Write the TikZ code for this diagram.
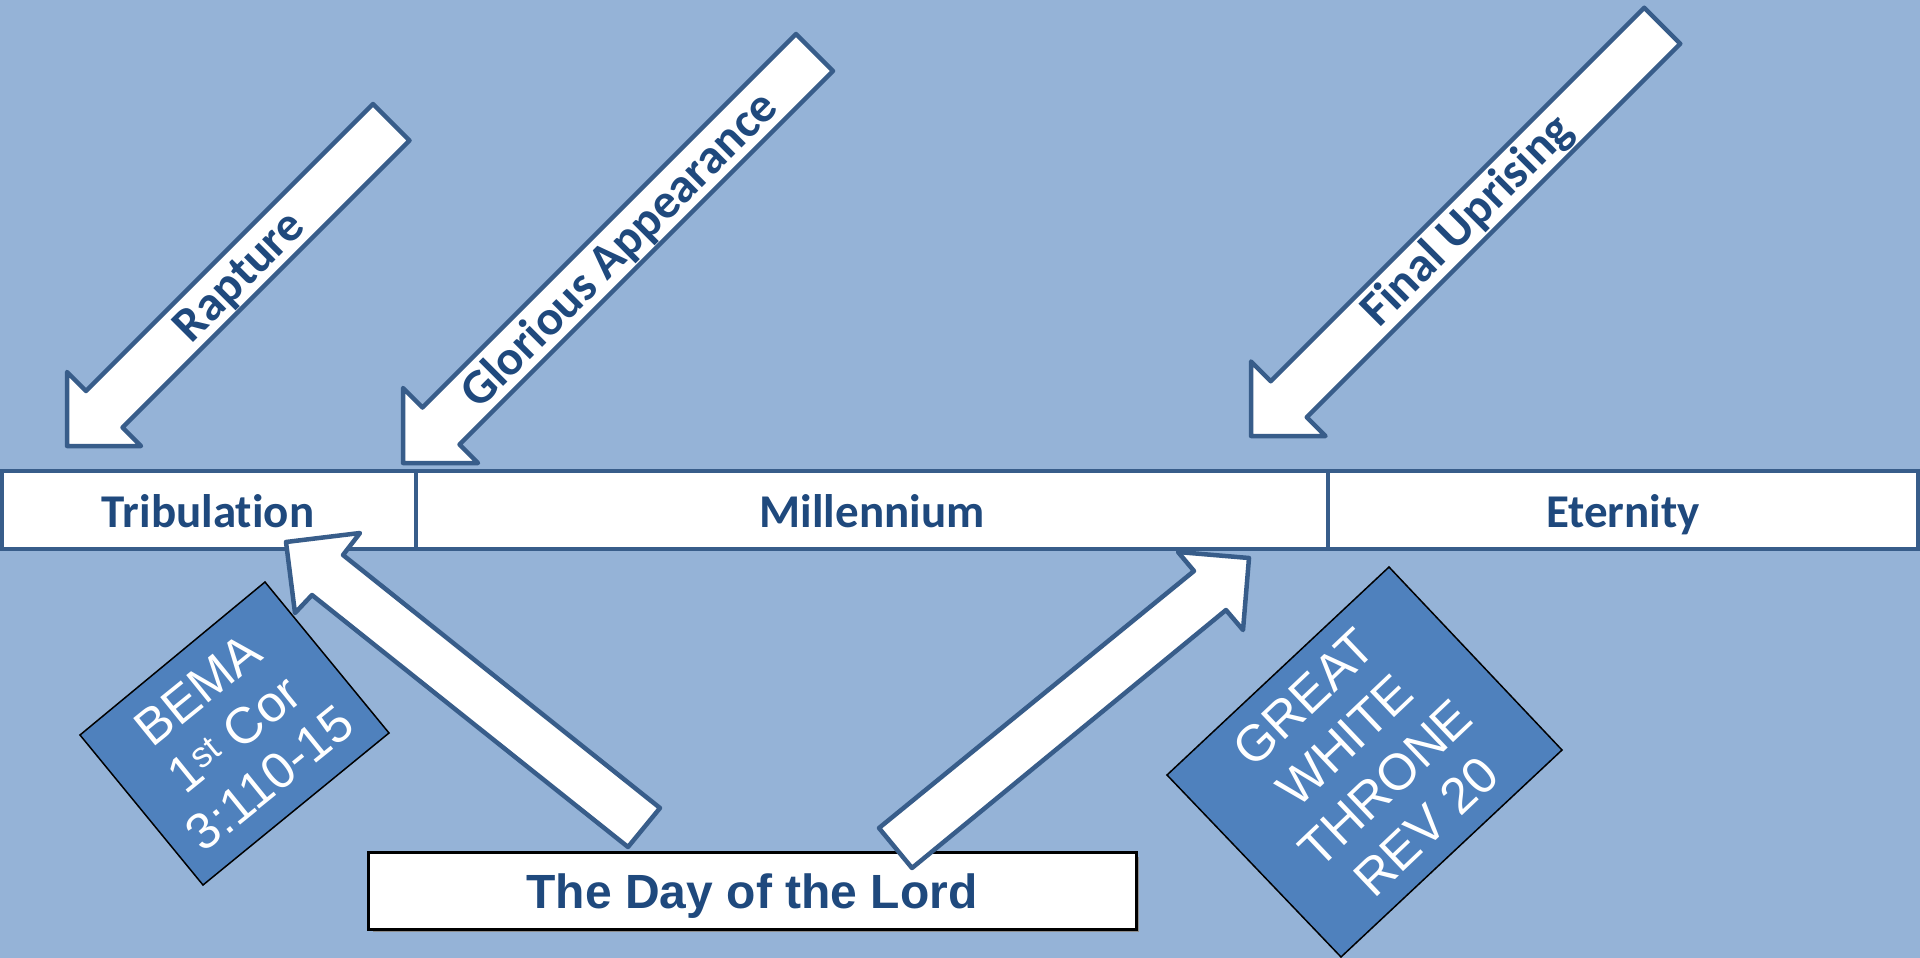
\documentclass[tikz,border=0pt]{standalone}
\usepackage{fontspec}
\setmainfont{Liberation Sans}
\newfontfamily\calib[Ligatures=NoCommon]{Carlito}
\definecolor{bgblue}{HTML}{95B3D7}
\definecolor{edgeblue}{HTML}{385D8A}
\definecolor{inkblue}{HTML}{1F497D}
\definecolor{boxblue}{HTML}{4F81BD}
\begin{document}
\begin{tikzpicture}[x=1pt,y=-1pt,
  blockarrow/.style={fill=white, draw=edgeblue, line width=4.5pt, line join=round},
  barseg/.style={fill=white, draw=edgeblue, line width=4.5pt},
  arrlbl/.style={font=\calib\bfseries\fontsize{49}{58}\selectfont, text=inkblue, inner sep=0pt},
  barlbl/.style={font=\calib\bfseries\fontsize{47}{56}\selectfont, text=inkblue, inner sep=0pt, anchor=base},
  infobox/.style={fill=boxblue, draw=black, line width=1.5pt, line join=miter},
  infotxt/.style={text=white, align=center, inner sep=0pt},
]
\fill[bgblue] (0,0) rectangle (1920,958);
\useasboundingbox (0,0) rectangle (1920,958);

% timeline bar
\draw[barseg] (2,471) rectangle (416,549);
\draw[barseg] (416,471) rectangle (1328,549);
\draw[barseg] (1328,471) rectangle (1918,549);
\node[barlbl] (trib) at (208,527) {Tribulation};
\node[barlbl] (mill) at (872,527) {Millennium};
\node[barlbl] (eter) at (1623,527) {Eternity};

% day of the lord box
\fill[black!45] (373,857) rectangle (1139,932);
\node[draw=black, line width=3pt, fill=white, minimum width=768pt, minimum height=77pt, inner sep=0pt] (daybox) at (752,890.5) {};
\node[font=\bfseries\fontsize{48}{56}\selectfont, text=inkblue, anchor=base, inner sep=0pt] (daytxt) at (752,908) {The Day of the Lord};

% down arrows
\draw[blockarrow] (373,104) -- (86,391) -- (67,372) -- (67,446) -- (141,446) -- (122.5,427.5) -- (409.5,140.5) -- cycle;
\node[arrlbl, rotate=45] (rapt) at (241,278) {Rapture};

\draw[blockarrow] (796,34) -- (422.5,407.5) -- (403,388) -- (403,463) -- (478,463) -- (459.5,444.5) -- (833,71) -- cycle;
\node[arrlbl, rotate=45] (glor) at (620,251) {Glorious Appearance};

\draw[blockarrow] (1644.25,7.75) -- (1270.75,381.25) -- (1251,361.5) -- (1251,436) -- (1325.5,436) -- (1306.75,417.25) -- (1680.25,43.75) -- cycle;
\node[arrlbl, rotate=45] (finl) at (1468,221.5) {Final Uprising};

% up arrows from the day of the lord
\draw[blockarrow] (286,542) -- (360,533) -- (343,555) -- (660,808) -- (628,847) -- (312,595) -- (295,613) -- cycle;
\draw[blockarrow] (879,828) -- (1194,571) -- (1178,552) -- (1249,558) -- (1243,630) -- (1226,610) -- (912,868) -- cycle;

% info boxes
\draw[infobox] (80,735) -- (265,582) -- (389,733) -- (203,885) -- cycle;
\node[infotxt, rotate=39, font=\fontsize{51}{57}\selectfont] (bema) at (234,734) {BEMA\\1\textsuperscript{st} Cor\\3:110-15};

\draw[infobox] (1167,775) -- (1389,567) -- (1562,750) -- (1341,957) -- cycle;
\node[infotxt, rotate=43.5, font=\fontsize{51}{59}\selectfont] (gwt) at (1365,762) {GREAT\\WHITE\\THRONE\\REV 20};
\end{tikzpicture}
\end{document}
